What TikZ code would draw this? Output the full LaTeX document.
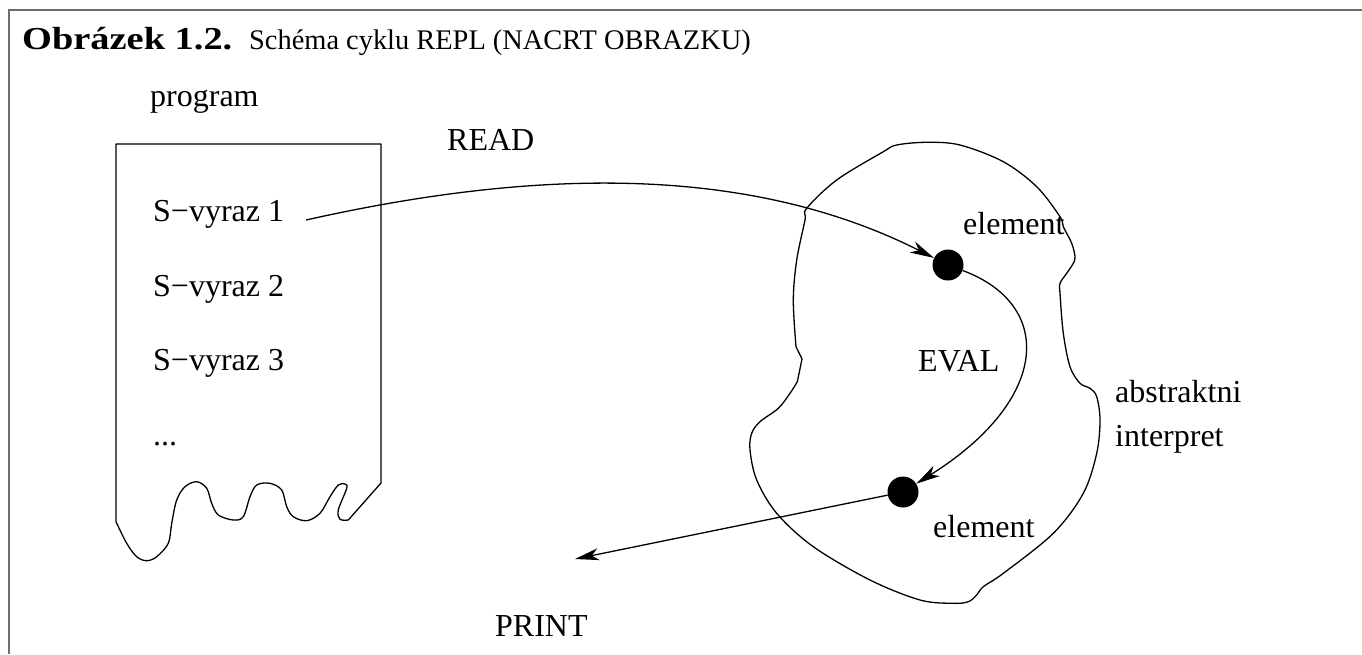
\documentclass[tikz,border=0pt]{standalone}
\usepackage{fontspec}
\setmainfont{Liberation Serif}
\newfontfamily\capboldfont{Liberation Serif}[FakeStretch=1.2]
\usetikzlibrary{arrows.meta}
\definecolor{framegray}{RGB}{110,110,110}
\begin{document}
\begin{tikzpicture}[x=1pt,y=-1pt,
  lbl/.style={anchor=base west, inner sep=0pt, font=\fontsize{32}{38}\selectfont},
  dot/.style={circle, fill=black, minimum size=31pt, inner sep=0pt},
  outline/.style={line width=1.3pt, line join=round},
  conn/.style={line width=1.3pt, -{Stealth[length=24pt, width=12pt, inset=7pt]}},
  frame/.style={draw=framegray, line width=2pt}]

\useasboundingbox (0,0) rectangle (1362,654);

% figure frame (top and left edges)
\draw[frame] (9,654) -- (9,10) -- (1362,10);

% caption
\node[lbl, font=\fontsize{32}{36}\capboldfont\bfseries] (capnum) at (22,49) {Obrázek 1.2.};
\node[lbl, font=\fontsize{28.4}{34}\selectfont] (captext) at (249,49)
  {Schéma cyklu REPL (NACRT OBRAZKU)};

% the program sheet with a torn bottom edge
\draw[outline] (116,144) -- (381,144) -- (381,483) -- plot[smooth, tension=0.55] coordinates {
  (348.3,520) (340,519.3) (338.3,510) (346.7,488.3) (345,484) (338.3,485)
  (330,496.7) (320,513.3) (306.7,520.7) (293.3,516.7) (286.7,506.7) (281.7,490)
  (270,483.3) (256.7,485) (250,496.7) (243.3,516.7) (233.3,520) (218.3,515)
  (211.7,503.3) (206.7,488.3) (196.7,481.7) (185,486.7) (176.7,500) (171.7,523.3)
  (168.3,543.3) (156.7,556.7) (146.7,560.7) (136.7,556.7) (126.7,543.3) (116,521.7)} -- cycle;

% the interpreter region
\draw[outline] plot[smooth, tension=0.55] coordinates {
  (797.3,381.7) (790,393.3) (778.3,408.3) (760,421.7) (751.7,433.3) (750,450)
  (756.7,480) (776.7,513.3) (813.3,546.7) (870,580) (920,600) (953.3,603.3)
  (968.3,601.7) (976.7,595) (983.3,586.7) (1003.3,573.3) (1053.3,533.3)
  (1083.3,493.3) (1096.7,453.3) (1100,420) (1096.7,396.7) (1090,388.3)
  (1080,383.3) (1070,366.7) (1063.3,333.3) (1060,293.3) (1060,283.3)
  (1066.7,273.3) (1073.3,263.3) (1075,256.7) (1071.7,243.3) (1063.3,226.7)
  (1060,216.7) (1036.7,186.7) (1003.3,161.7) (960,145) (926.7,142.3)
  (896.7,145) (883.3,151.7) (836.7,180) (806.7,208.3) (805,220) (796.7,260)
  (793.3,300) (796,346.7)} -- (802,359) -- cycle;

% labels
\node[lbl] (prog)  at (150,106) {program};
\node[lbl] (read)  at (447,150) {READ};
\node[lbl] (s1)    at (153,221) {S−vyraz 1};
\node[lbl] (s2)    at (153,296) {S−vyraz 2};
\node[lbl] (s3)    at (153,370) {S−vyraz 3};
\node[lbl] (more)  at (153,445) {...};
\node[lbl] (eval)  at (918,371) {EVAL};
\node[lbl] (el1)   at (963,234) {element};
\node[lbl] (el2)   at (933,537) {element};
\node[lbl] (abs)   at (1115,402) {abstraktni};
\node[lbl] (intp)  at (1115,446) {interpret};
\node[lbl] (print) at (495,636) {PRINT};

% elements
\node[dot] (d1) at (948,265) {};
\node[dot] (d2) at (903,492) {};

% connector ends
\coordinate (rs) at (306,220);
\coordinate (pe) at (575,559);

% READ, EVAL, PRINT
\draw[conn] (rs) .. controls (520,172) and (740,160) .. (d1);
\draw[conn] (d1) .. controls (1055,305) and (1050,400) .. (d2);
\draw[conn] (d2) -- (pe);
\end{tikzpicture}
\end{document}
